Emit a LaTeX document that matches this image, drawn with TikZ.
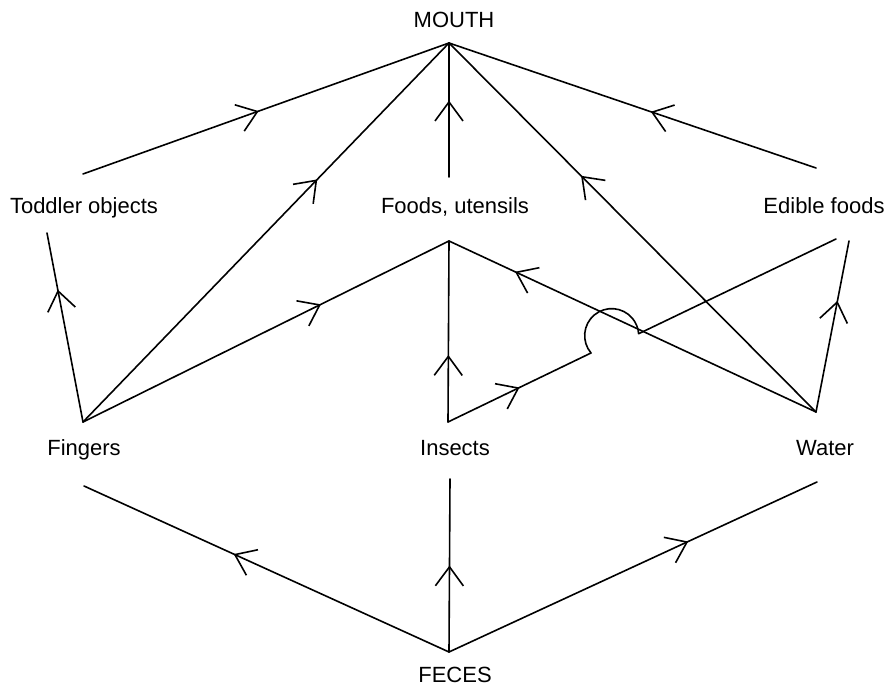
\documentclass[tikz,border=0pt]{standalone}
\usepackage{fontspec}
\setmainfont{Liberation Sans}
\usetikzlibrary{arrows.meta,decorations.markings}
\tikzset{
  conn/.style={line width=1.6pt,line cap=round,line join=round},
  arr/.style={postaction={decorate},decoration={markings,
    mark=at position #1 with {\arrow[line width=1.6pt]{Straight Barb[length=19pt,width=28pt]}}}},
  lbl/.style={anchor=base,inner sep=0pt,font=\fontsize{22}{26}\selectfont}
}
\begin{document}
\begin{tikzpicture}[x=1pt,y=1pt]
\useasboundingbox (0,0) rectangle (887,687);
% labels
\node[lbl] (mouth) at (454,659) {MOUTH};
\node[lbl] (toddler) at (84,473) {Toddler objects};
\node[lbl] (foods) at (455,473) {Foods, utensils};
\node[lbl] (edible) at (824,473) {Edible foods};
\node[lbl] (fingers) at (84,231) {Fingers};
\node[lbl] (insects) at (455,231) {Insects};
\node[lbl] (water) at (825,231) {Water};
\node[lbl] (feces) at (455,4) {FECES};
% end points
\coordinate (M) at (449,644);
\coordinate (T1) at (83,513);
\coordinate (T2) at (47,454);
\coordinate (FU1) at (449,510);
\coordinate (FU2) at (449,446);
\coordinate (E1) at (816,519);
\coordinate (E2h) at (836,448);
\coordinate (E2w) at (849,446);
\coordinate (F1) at (83,265);
\coordinate (F2) at (84,201);
\coordinate (I1) at (448,265);
\coordinate (I2) at (450,208);
\coordinate (W1) at (816,275);
\coordinate (W2) at (817,205);
\coordinate (X) at (449,35);
\coordinate (H1) at (591,334);
% to mouth
\draw[conn,arr=0.48] (T1) -- (M);
\draw[conn,arr=0.64] (F1) -- (M);
\draw[conn,arr=0.57] (FU1) -- (M);
\draw[conn,arr=0.64] (W1) -- (M);
\draw[conn,arr=0.45] (E1) -- (M);
% middle layer
\draw[conn,arr=0.7] (F1) -- (T2);
\draw[conn,arr=0.65] (F1) -- (FU2);
\draw[conn,arr=0.37] (I1) -- (FU2);
\draw[conn,arr=0.82] (W1) -- (FU2);
\draw[conn,arr=0.65] (W1) -- (E2w);
\draw[conn,arr=0.5] (I1) -- (H1);
\draw[conn] (H1) arc[start angle=220,end angle=4,radius=27pt] coordinate (H2) -- (E2h);
% from feces
\draw[conn,arr=0.59] (X) -- (F2);
\draw[conn,arr=0.5] (X) -- (I2);
\draw[conn,arr=0.65] (X) -- (W2);
\end{tikzpicture}
\end{document}
